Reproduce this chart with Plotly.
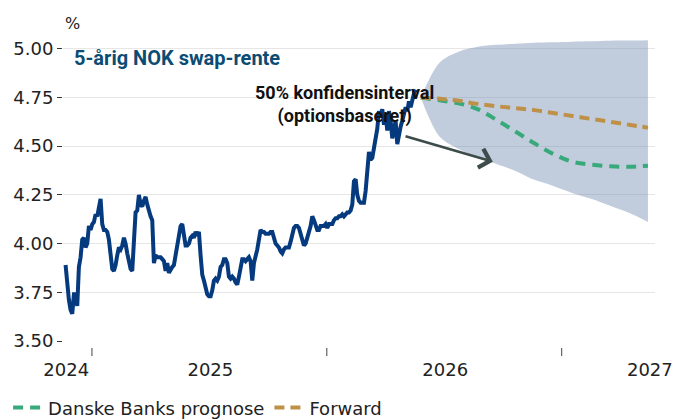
import pandas as pd
import plotly.graph_objects as go

# 5-årig NOK swap-rente, observeret (jævnt fordelte observationer)
hist_start, hist_end = "2024-05-21", "2025-11-16"
hist_rate = [
    3.89, 3.78, 3.71, 3.66, 3.64, 3.74, 3.74, 3.68, 3.88, 3.93,
    4.02, 4.03, 3.98, 4.00, 4.09, 4.07, 4.10, 4.11, 4.15, 4.14,
    4.20, 4.23, 4.10, 4.07, 4.07, 4.06, 4.02, 3.93, 3.87, 3.86,
    3.89, 3.94, 3.98, 3.97, 3.99, 4.03, 4.00, 3.95, 3.90, 3.87,
    3.86, 4.03, 4.16, 4.17, 4.25, 4.20, 4.19, 4.22, 4.24, 4.20,
    4.16, 4.14, 4.12, 3.90, 3.94, 3.93, 3.93, 3.93, 3.92, 3.91,
    3.86, 3.90, 3.85, 3.87, 3.88, 3.89, 3.94, 4.02, 4.06, 4.09,
    4.10, 4.04, 3.99, 3.99, 4.00, 4.03, 4.04, 4.03, 4.06, 4.04,
    4.06, 3.94, 3.84, 3.81, 3.77, 3.74, 3.73, 3.73, 3.76, 3.81,
    3.82, 3.81, 3.83, 3.88, 3.89, 3.92, 3.92, 3.90, 3.83, 3.82,
    3.83, 3.82, 3.80, 3.79, 3.83, 3.89, 3.92, 3.92, 3.91, 3.92,
    3.93, 3.91, 3.81, 3.90, 3.95, 3.97, 4.02, 4.07, 4.06, 4.06,
    4.05, 4.05, 4.05, 4.06, 4.06, 4.03, 4.00, 3.99, 3.98, 3.96,
    3.95, 3.97, 3.98, 3.98, 3.98, 4.01, 4.06, 4.08, 4.09, 4.09,
    4.08, 4.05, 4.02, 3.99, 4.00, 4.04, 4.06, 4.09, 4.14, 4.12,
    4.09, 4.07, 4.07, 4.09, 4.09, 4.09, 4.10, 4.08, 4.10, 4.10,
    4.10, 4.12, 4.13, 4.13, 4.14, 4.14, 4.15, 4.14, 4.15, 4.16,
    4.16, 4.17, 4.20, 4.32, 4.33, 4.25, 4.22, 4.21, 4.21, 4.21,
    4.27, 4.38, 4.47, 4.43, 4.44, 4.49, 4.54, 4.59, 4.68, 4.65,
    4.69, 4.61, 4.66, 4.58, 4.68, 4.63, 4.54, 4.59, 4.63, 4.51,
    4.57, 4.60, 4.63, 4.66, 4.70, 4.68, 4.73, 4.70, 4.75, 4.77,
    4.79,
]

# Fremskrivning: konfidensbånd, prognose og forwardkurve
fc_start, fc_end = "2025-11-24", "2026-11-12"
band_upper = [4.75, 4.93, 4.985, 5.01, 5.02, 5.026, 5.031, 5.033, 5.036, 5.038, 5.041, 5.042, 5.044]
band_lower = [4.75, 4.548, 4.486, 4.445, 4.409, 4.373, 4.327, 4.296, 4.260, 4.230, 4.194, 4.158, 4.111]
danske_forecast = [4.75, 4.735, 4.72, 4.69, 4.635, 4.575, 4.515, 4.46, 4.42, 4.405, 4.397, 4.394, 4.40]
forward_curve = [4.75, 4.743, 4.733, 4.717, 4.705, 4.695, 4.685, 4.67, 4.655, 4.64, 4.625, 4.61, 4.595]

year_labels = ["2024", "2025", "2026", "2027"]
year_label_dates = ["2024-05-22", "2025-01-01", "2026-01-01", "2026-11-15"]
tick_mark_dates = ["2024-07-01", "2025-07-01", "2026-07-01"]
y_ticks = [3.5, 3.75, 4.0, 4.25, 4.5, 4.75, 5.0]

FONT = "Roboto"
AXIS_FONT = "DejaVu Sans"
NAVY = "#053a7e"
GREEN = "#38a97a"
GOLD = "#be9048"
BAND = "rgba(117,144,177,0.45)"

hist_dates = pd.date_range(hist_start, hist_end, periods=len(hist_rate))
fc_dates = pd.date_range(fc_start, fc_end, periods=len(danske_forecast))

fig = go.Figure()

# Konfidensbånd: øvre kant (usynlig) + nedre kant fyldt op til den øvre
fig.add_trace(go.Scatter(
    x=fc_dates, y=band_upper, mode="lines",
    line=dict(width=0, shape="spline", smoothing=0.9),
    hoverinfo="skip", showlegend=False,
))
fig.add_trace(go.Scatter(
    x=fc_dates, y=band_lower, mode="lines", fill="tonexty", fillcolor=BAND,
    line=dict(width=0, shape="spline", smoothing=0.9),
    hoverinfo="skip", showlegend=False,
))

fig.add_trace(go.Scatter(
    x=hist_dates, y=hist_rate, mode="lines",
    line=dict(color=NAVY, width=4), showlegend=False,
))

fig.add_trace(go.Scatter(
    x=fc_dates, y=danske_forecast, mode="lines", name="Danske Banks prognose",
    line=dict(color=GREEN, width=4, dash="10px,7px", shape="spline"),
))
fig.add_trace(go.Scatter(
    x=fc_dates, y=forward_curve, mode="lines", name="Forward",
    line=dict(color=GOLD, width=4, dash="10px,6px", shape="spline"),
))

# Små tick-markeringer under x-aksen
for d in tick_mark_dates:
    fig.add_shape(type="line", xref="x", yref="paper", x0=d, x1=d,
                  y0=-0.023, y1=-0.05, line=dict(color="#444", width=1))

fig.add_annotation(xref="paper", yref="paper", x=0, y=1, xanchor="left",
                   yanchor="bottom", yshift=4, text="%", showarrow=False,
                   font=dict(family=AXIS_FONT, size=16, color="#222"))

fig.add_annotation(xref="paper", yref="y", x=0.015, y=4.955, xanchor="left",
                   yanchor="middle", text="<b>5-årig NOK swap-rente</b>",
                   showarrow=False, font=dict(family=FONT, size=20, color="#0b4c74"))

fig.add_annotation(xref="x", yref="y", x="2025-07-29", y=4.712,
                   text="<b>50% konfidensinterval<br>(optionsbaseret)</b>",
                   showarrow=False, align="center",
                   font=dict(family=FONT, size=18, color="#111"))

fig.add_annotation(xref="x", yref="y", x="2026-03-16", y=4.42,
                   axref="x", ayref="y", ax="2025-10-29", ay=4.553,
                   text="", showarrow=True, arrowhead=4, arrowsize=1.5,
                   arrowwidth=2.5, arrowcolor="#3d4b4b", standoff=0)

fig.update_xaxes(
    type="date", range=["2024-05-17", "2026-11-23"],
    tickmode="array", tickvals=year_label_dates, ticktext=year_labels,
    ticks="outside", ticklen=12, tickcolor="rgba(0,0,0,0)",
    showgrid=False, zeroline=False, showline=False,
    tickfont=dict(family=AXIS_FONT, size=18, color="#222"),
)
fig.update_yaxes(
    range=[3.5, 5.05], tickmode="array", tickvals=y_ticks, tickformat=".2f",
    ticks="outside", ticklen=5, tickcolor="#333", tickwidth=1,
    showgrid=True, gridcolor="#e6e6e6", gridwidth=1, zeroline=False,
    showline=False, tickfont=dict(family=AXIS_FONT, size=18, color="#222"),
)

fig.update_layout(
    width=675, height=420,
    margin=dict(l=63, r=20, t=39, b=79, autoexpand=False),
    paper_bgcolor="white", plot_bgcolor="white",
    font=dict(family=FONT, color="#222"),
    legend=dict(orientation="h", xref="container", yref="container",
                x=0.012, xanchor="left", y=0.029, yanchor="middle",
                traceorder="normal",
                font=dict(family=AXIS_FONT, size=18, color="#222"),
                bgcolor="rgba(0,0,0,0)"),
)

fig.write_html("out.html")
